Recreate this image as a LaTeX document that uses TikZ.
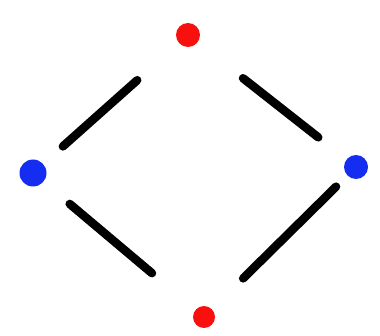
\documentclass[tikz,border=0pt]{standalone}
\definecolor{dotred}{RGB}{250,15,15}
\definecolor{dotblue}{RGB}{20,45,240}
\tikzset{
  spot/.style={circle, inner sep=0pt, minimum size=#1},
  edge/.style={line width=8.5pt, line cap=round}
}
\begin{document}
\begin{tikzpicture}[x=1pt,y=1pt]
\useasboundingbox (0,0) rectangle (380,335);

\node[spot=24pt, fill=dotred] (t) at (188,300) {};
\node[spot=27pt, fill=dotblue] (l) at (33,162) {};
\node[spot=24pt, fill=dotblue] (r) at (356,168) {};
\node[spot=22pt, fill=dotred] (b) at (204,18) {};

\draw[edge, shorten <=68pt, shorten >=40pt] (t.center) -- (l.center);
\draw[edge, shorten <=70pt, shorten >=48pt] (t.center) -- (r.center);
\draw[edge, shorten <=48pt, shorten >=68pt] (l.center) -- (b.center);
\draw[edge, shorten <=55pt, shorten >=28pt] (b.center) -- (r.center);
\end{tikzpicture}
\end{document}
